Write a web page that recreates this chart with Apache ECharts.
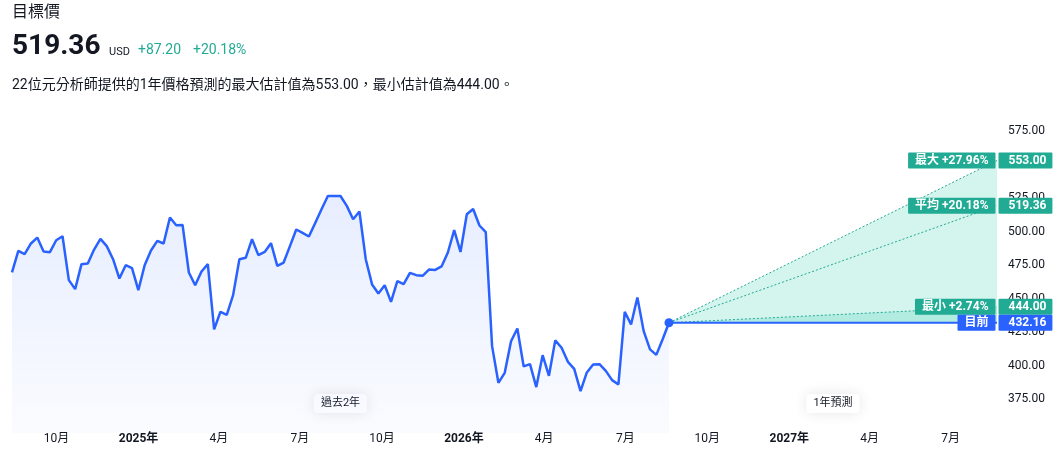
<!DOCTYPE html>
<html>
<head>
<meta charset="utf-8">
<script src="https://cdn.jsdelivr.net/npm/echarts@6/dist/echarts.min.js"></script>
<style>
  html, body { margin: 0; padding: 0; background: #fff; }
  #chart { width: 1063px; height: 457px; }
</style>
</head>
<body>
<div id="chart"></div>
<script>
// 價格走勢 + 1年目標價預測
var FONT = 'Roboto, "Noto Sans CJK TC", sans-serif';

var pastStart = '2024-08-12';
var currentDate = '2026-08-19';
var forecastEnd = '2027-08-22';

// 過去2年 (每週一點)
var pastValues = [
  469.6, 485.7, 483.2, 491.2, 495.6, 485.2, 484.7, 493.6, 496.6, 463.9,
  457.2, 475.8, 476.3, 486.7, 494.6, 489.2, 479.5, 465.1, 475.0, 472.8,
  456.4, 475.0, 486.0, 493.1, 491.2, 510.5, 504.8, 505.0, 469.6, 460.1,
  470.3, 475.8, 427.2, 440.3, 438.0, 452.7, 479.5, 480.5, 494.4, 482.5,
  484.9, 491.4, 474.5, 477.0, 489.2, 501.6, 499.1, 496.4, 506.5, 516.7,
  526.6, 526.6, 526.6, 519.2, 509.3, 515.0, 479.5, 460.7, 454.0, 460.1,
  447.7, 463.1, 460.9, 469.3, 467.6, 467.1, 471.8, 471.5, 474.1, 484.5,
  501.1, 484.9, 513.0, 516.9, 504.6, 499.6, 414.7, 387.4, 394.8, 418.4,
  427.9, 399.6, 401.3, 384.2, 408.0, 392.6, 419.0, 413.5, 403.0, 397.8,
  381.2, 395.1, 401.1, 401.3, 396.3, 389.4, 386.2, 440.3, 430.9, 451.0,
  425.9, 412.3, 408.2, 419.9, 432.16
];

var targetNames = ['最大', '平均', '最小'];
var targetValues = [553.00, 519.36, 444.00];
var analystCount = 22;

var yTicks = [375, 400, 425, 450, 475, 500, 525, 550, 575];

var t0 = +new Date(pastStart);
var tCur = +new Date(currentDate);
var tEnd = +new Date(forecastEnd);
var current = pastValues[pastValues.length - 1];

var pastData = pastValues.map(function (v, i) {
  return [t0 + (tCur - t0) * i / (pastValues.length - 1), v];
});

function pct(v) {
  var p = (v / current - 1) * 100;
  return (p >= 0 ? '+' : '') + p.toFixed(2) + '%';
}

var chart = echarts.init(document.getElementById('chart'));

var GREEN = '#22ab94';
var BLUE = '#2962ff';

var boxLabel = function (color, pos) {
  return {
    show: true,
    position: pos,
    distance: 1,
    color: '#fff',
    fontFamily: FONT,
    fontSize: 12,
    fontWeight: 'bold',
    lineHeight: 14,
    backgroundColor: color,
    padding: pos === 'right' ? [1, 6, 1, 10] : [1, 7],
    borderRadius: 1
  };
};

var series = [];

// 過去2年
series.push({
  type: 'line',
  data: pastData,
  symbol: 'none',
  lineStyle: { color: BLUE, width: 2.5 },
  areaStyle: {
    color: new echarts.graphic.LinearGradient(0, 0, 0, 1, [
      { offset: 0, color: 'rgba(41,98,255,0.16)' },
      { offset: 1, color: 'rgba(41,98,255,0.03)' }
    ])
  },
  z: 5,
  markArea: {
    silent: true,
    itemStyle: { color: 'rgba(0,0,0,0)' },
    label: {
      position: 'insideBottom',
      distance: 20,
      color: '#131722',
      fontFamily: FONT,
      fontSize: 11,
      backgroundColor: '#fff',
      padding: [4, 7],
      borderRadius: 4,
      shadowBlur: 14,
      shadowColor: 'rgba(0,0,0,0.10)'
    },
    data: [
      [{ name: '過去2年', xAxis: t0 }, { xAxis: tCur }],
      [{ name: '1年預測', xAxis: tCur }, { xAxis: tEnd }]
    ]
  }
});

// 預測範圍填色 (最大、最小)
series.push({
  type: 'custom',
  silent: true,
  z: 1,
  data: [[tEnd, targetValues[0]], [tEnd, targetValues[2]]],
  renderItem: function (params, api) {
    var a = api.coord([tCur, current]);
    var b = api.coord([api.value(0), api.value(1)]);
    var c = api.coord([api.value(0), current]);
    return {
      type: 'polygon',
      shape: { points: [a, b, c] },
      style: { fill: 'rgba(38,200,170,0.2)' }
    };
  }
});

// 目標價虛線
targetValues.forEach(function (v) {
  series.push({
    type: 'line',
    data: [[tCur, current], [tEnd, v]],
    symbol: 'none',
    silent: true,
    lineStyle: { color: GREEN, width: 1, type: [2, 2] },
    z: 3
  });
});

// 目前價格線
series.push({
  type: 'line',
  data: [[tCur, current], [tEnd, current]],
  symbol: 'none',
  lineStyle: { color: BLUE, width: 2 },
  z: 4
});
series.push({
  type: 'scatter',
  data: [[tCur, current]],
  symbolSize: 9,
  itemStyle: { color: BLUE, opacity: 1 },
  z: 6
});

// 右側標籤
var tagNames = targetNames.concat(['目前']);
var tagValues = targetValues.concat([current]);
tagValues.forEach(function (v, i) {
  var color = tagNames[i] === '目前' ? BLUE : GREEN;
  var leftText = tagNames[i] === '目前' ? tagNames[i] : tagNames[i] + ' ' + pct(v);
  ['left', 'right'].forEach(function (side) {
    series.push({
      type: 'scatter',
      clip: false,
      silent: true,
      symbolSize: 1,
      itemStyle: { color: 'rgba(0,0,0,0)', opacity: 1 },
      data: [[tEnd, v]],
      label: Object.assign(boxLabel(color, side), {
        formatter: side === 'left' ? leftText : v.toFixed(2)
      }),
      labelLayout: { hideOverlap: false },
      z: 10
    });
  });
});

var avg = targetValues[1];
var chg = avg - current;

var option = {
  animation: false,
  textStyle: { fontFamily: FONT },
  graphic: [
    { type: 'text', left: 12, top: 5, style: { text: '目標價', fontSize: 16, fill: '#131722', fontFamily: FONT } },
    { type: 'text', left: 12, top: 33, style: { text: avg.toFixed(2), fontSize: 28, fontWeight: 'bold', fill: '#131722', fontFamily: FONT } },
    { type: 'text', left: 109, top: 47, style: { text: 'USD', fontSize: 11, fill: '#131722', fontFamily: FONT } },
    { type: 'text', left: 138, top: 44, style: { text: '+' + chg.toFixed(2), fontSize: 14, fill: GREEN, fontFamily: FONT } },
    { type: 'text', left: 193, top: 44, style: { text: pct(avg), fontSize: 14, fill: GREEN, fontFamily: FONT } },
    { type: 'text', left: 12, top: 79, style: {
      text: analystCount + '位元分析師提供的1年價格預測的最大估計值為' + targetValues[0].toFixed(2) +
        '，最小估計值為' + targetValues[2].toFixed(2) + '。',
      fontSize: 14, fill: '#131722', fontFamily: FONT } }
  ],
  grid: { left: 12, right: 66, top: 131, bottom: 24 },
  xAxis: {
    type: 'time',
    min: t0,
    max: tEnd,
    splitNumber: 12,
    minInterval: 80 * 24 * 3600 * 1000,
    maxInterval: 100 * 24 * 3600 * 1000,
    axisLine: { show: false },
    axisTick: { show: false },
    splitLine: { show: false },
    axisLabel: {
      margin: 0,
      color: '#131722',
      fontSize: 12,
      fontFamily: FONT,
      showMinLabel: false,
      showMaxLabel: false,
      hideOverlap: false,
      formatter: { year: '{yr|{yyyy}年}', month: '{M}月', day: '', hour: '', minute: '', second: '', millisecond: '' },
      rich: { yr: { fontWeight: 'bold', fontSize: 12, color: '#131722' } }
    }
  },
  yAxis: {
    type: 'value',
    position: 'right',
    min: 350,
    max: 575,
    interval: 25,
    axisLine: { show: false },
    axisTick: { show: false },
    splitLine: { show: false },
    axisLabel: {
      margin: 11,
      color: '#131722',
      fontSize: 12,
      fontFamily: FONT,
      formatter: function (v) { return yTicks.indexOf(v) >= 0 ? v.toFixed(2) : ''; }
    }
  },
  series: series
};

chart.setOption(option);
</script>
</body>
</html>
